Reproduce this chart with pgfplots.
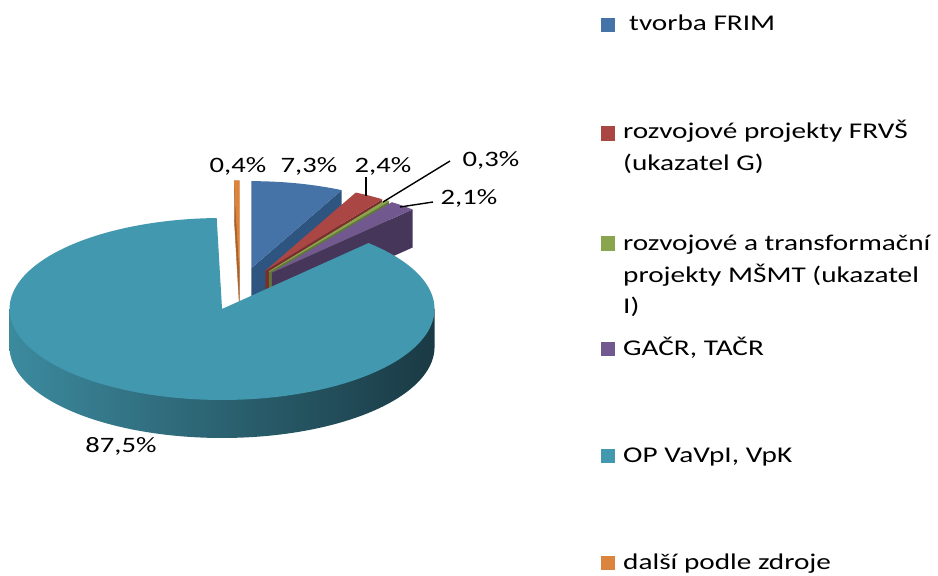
\documentclass[border=0pt]{standalone}
\usepackage{pgfplots}
\pgfplotsset{compat=1.18}
\usepackage{fontspec}
\setmainfont{Carlito}[FakeStretch=1.3]
\definecolor{cBlue}{HTML}{4572A7}
\definecolor{cBlueS}{HTML}{2E5580}
\definecolor{cRed}{HTML}{AA4643}
\definecolor{cRedS}{HTML}{7A2F2D}
\definecolor{cGreen}{HTML}{89A54E}
\definecolor{cGreenS}{HTML}{62783A}
\definecolor{cPurple}{HTML}{71588F}
\definecolor{cPurpleS}{HTML}{463659}
\definecolor{cTeal}{HTML}{4198AF}
\definecolor{cTealL}{HTML}{3C8A9E}
\definecolor{cTealD}{HTML}{1A3A44}
\definecolor{cOrange}{HTML}{DB843D}
\definecolor{cOrangeS}{HTML}{A8622B}
\newcommand\lbl{\fontsize{22}{26}\selectfont}
\newcommand\leg{\fontsize{22.5}{30.5}\selectfont}
% data (percent)
\def\vA{7.3}\def\vB{2.4}\def\vC{0.3}\def\vD{2.1}\def\vE{87.5}\def\vF{0.4}
\begin{document}
\begin{tikzpicture}
% geometry
\pgfmathsetmacro\cx{240}\pgfmathsetmacro\cy{289}
\pgfmathsetmacro\ex{50}\pgfmathsetmacro\rx{212.5}\pgfmathsetmacro\ry{91}
\pgfmathsetmacro\sx{204}\pgfmathsetmacro\sy{87}% smaller (farther) back slices
\pgfmathsetmacro\dd{38}\pgfmathsetmacro\kk{\ry/\rx}
% angles (clockwise from top)
\pgfmathsetmacro\aA{0}
\pgfmathsetmacro\aB{\aA+3.6*\vA}
\pgfmathsetmacro\aC{\aB+3.6*\vB}
\pgfmathsetmacro\aD{\aC+3.6*\vC}
\pgfmathsetmacro\aE{\aD+3.6*\vD}
\pgfmathsetmacro\aF{\aE+3.6*\vE}
\pgfmathsetmacro\aG{\aF+3.6*\vF}
% exploded apexes
\pgfmathsetmacro\oxA{\cx+\ex*sin((\aA+\aB)/2)}\pgfmathsetmacro\oyA{\cy-\ex*\kk*cos((\aA+\aB)/2)}
\pgfmathsetmacro\oxB{\cx+\ex*sin((\aB+\aC)/2)}\pgfmathsetmacro\oyB{\cy-\ex*\kk*cos((\aB+\aC)/2)}
\pgfmathsetmacro\oxC{\cx+\ex*sin((\aC+\aD)/2)}\pgfmathsetmacro\oyC{\cy-\ex*\kk*cos((\aC+\aD)/2)}
\pgfmathsetmacro\oxD{\cx+\ex*sin((\aD+\aE)/2)}\pgfmathsetmacro\oyD{\cy-\ex*\kk*cos((\aD+\aE)/2)}
\pgfmathsetmacro\oxE{\cx+\ex*sin((\aE+\aF)/2)}\pgfmathsetmacro\oyE{\cy-\ex*\kk*cos((\aE+\aF)/2)}
\pgfmathsetmacro\oxF{\cx+\ex*sin((\aF+\aG)/2)}\pgfmathsetmacro\oyF{\cy-\ex*\kk*cos((\aF+\aG)/2)}
% outer end points of cut faces
\pgfmathsetmacro\qxA{\oxA+\sx*sin(\aB)}\pgfmathsetmacro\qyA{\oyA-\sy*cos(\aB)}
\pgfmathsetmacro\qxB{\oxB+\sx*sin(\aC)}\pgfmathsetmacro\qyB{\oyB-\sy*cos(\aC)}
\pgfmathsetmacro\qxC{\oxC+\sx*sin(\aD)}\pgfmathsetmacro\qyC{\oyC-\sy*cos(\aD)}
\pgfmathsetmacro\qxD{\oxD+\sx*sin(\aE)}\pgfmathsetmacro\qyD{\oyD-\sy*cos(\aE)}
\pgfmathsetmacro\qxF{\oxF+\sx*sin(\aF)}\pgfmathsetmacro\qyF{\oyF-\sy*cos(\aF)}
\pgfmathsetmacro\pyA{\oyA+\dd}\pgfmathsetmacro\pyB{\oyB+\dd}\pgfmathsetmacro\pyC{\oyC+\dd}
\pgfmathsetmacro\pyD{\oyD+\dd}\pgfmathsetmacro\pyF{\oyF+\dd}
\pgfmathsetmacro\ryA{\qyA+\dd}\pgfmathsetmacro\ryB{\qyB+\dd}\pgfmathsetmacro\ryC{\qyC+\dd}
\pgfmathsetmacro\ryD{\qyD+\dd}\pgfmathsetmacro\ryF{\qyF+\dd}
\pgfmathsetmacro\tl{\oxE-\rx}\pgfmathsetmacro\tr{\oxE+\rx}
\begin{axis}[
  scale only axis, width=938pt, height=576pt,
  xmin=0, xmax=938, ymin=0, ymax=576, y dir=reverse,
  hide axis, clip=false,
]
\path (rel axis cs:0,0) rectangle (rel axis cs:1,1);
% --- tvorba FRIM
\addplot[fill=cBlueS, draw=none] coordinates {(\oxA,\oyA) (\qxA,\qyA) (\qxA,\ryA) (\oxA,\pyA)} -- cycle;
\addplot[fill=cBlue, draw=none, domain=\aA:\aB, samples=30, variable=\t]
  ({\oxA+\sx*sin(t)},{\oyA-\sy*cos(t)}) -- (axis cs:\oxA,\oyA) -- cycle;
% --- FRVS
\addplot[fill=cRedS, draw=none] coordinates {(\oxB,\oyB) (\qxB,\qyB) (\qxB,\ryB) (\oxB,\pyB)} -- cycle;
\addplot[fill=cRed, draw=none, domain=\aB:\aC, samples=15, variable=\t]
  ({\oxB+\sx*sin(t)},{\oyB-\sy*cos(t)}) -- (axis cs:\oxB,\oyB) -- cycle;
% --- MSMT
\addplot[fill=cGreenS, draw=none] coordinates {(\oxC,\oyC) (\qxC,\qyC) (\qxC,\ryC) (\oxC,\pyC)} -- cycle;
\addplot[fill=cGreen, draw=cGreen, line width=0.6pt, domain=\aC:\aD, samples=5, variable=\t]
  ({\oxC+\sx*sin(t)},{\oyC-\sy*cos(t)}) -- (axis cs:\oxC,\oyC) -- cycle;
% --- GACR
\addplot[fill=cPurpleS, draw=none] coordinates {(\oxD,\oyD) (\qxD,\qyD) (\qxD,\ryD) (\oxD,\pyD)} -- cycle;
\addplot[fill=cPurple, draw=none, domain=\aD:\aE, samples=15, variable=\t]
  ({\oxD+\sx*sin(t)},{\oyD-\sy*cos(t)}) -- (axis cs:\oxD,\oyD) -- cycle;
% --- dalsi
\addplot[fill=cOrangeS, draw=cOrangeS, line width=0.4pt] coordinates {(\oxF,\oyF) (\qxF,\qyF) (\qxF,\ryF) (\oxF,\pyF)} -- cycle;
\addplot[fill=cOrange, draw=cOrange, line width=0.6pt, domain=\aF:\aG, samples=5, variable=\t]
  ({\oxF+\sx*sin(t)},{\oyF-\sy*cos(t)}) -- (axis cs:\oxF,\oyF) -- cycle;
% --- OP VaVpI (side then top)
\addplot[left color=cTealL, right color=cTealD, draw=none, domain=90:270, samples=120, variable=\t]
  ({\oxE+\rx*sin(t)},{\oyE-\ry*cos(t)+\dd}) -- (axis cs:\tl,\oyE) -- (axis cs:\tr,\oyE) -- cycle;
\addplot[fill=cTeal, draw=none, domain=\aE:\aF, samples=150, variable=\t]
  ({\oxE+\rx*sin(t)},{\oyE-\ry*cos(t)}) -- (axis cs:\oxE,\oyE) -- cycle;
% leader lines
\addplot[black, line width=1.4pt] coordinates {(366,177) (366,196)};
\addplot[black, line width=1.4pt] coordinates {(450,161) (383,202)};
\addplot[black, line width=1.4pt] coordinates {(433,202) (400,207)};
% data labels
\node[font=\lbl, anchor=base, inner sep=0] at (axis cs:238,172) {0,4\%};
\node[font=\lbl, anchor=base, inner sep=0] at (axis cs:309,172) {7,3\%};
\node[font=\lbl, anchor=base, inner sep=0] at (axis cs:383,172) {2,4\%};
\node[font=\lbl, anchor=base, inner sep=0] at (axis cs:491,166) {0,3\%};
\node[font=\lbl, anchor=base, inner sep=0] at (axis cs:469,204) {2,1\%};
\node[font=\lbl, anchor=base, inner sep=0] at (axis cs:121,452) {87,5\%};
% legend
\addplot[only marks, mark=square*, mark size=6.75pt, cBlue] coordinates {(607.5,24.5)};
\addplot[only marks, mark=square*, mark size=6.75pt, cRed] coordinates {(607.5,133)};
\addplot[only marks, mark=square*, mark size=6.75pt, cGreen] coordinates {(607.5,243)};
\addplot[only marks, mark=square*, mark size=6.75pt, cPurple] coordinates {(607.5,348.5)};
\addplot[only marks, mark=square*, mark size=6.75pt, cTeal] coordinates {(607.5,455.5)};
\addplot[only marks, mark=square*, mark size=6.75pt, cOrange] coordinates {(607.5,562.5)};
\node[font=\leg, anchor=base west, inner sep=0] at (axis cs:629,30) {tvorba FRIM};
\node[font=\leg, anchor=base west, inner sep=0] at (axis cs:623,138) {rozvojové projekty FRVŠ};
\node[font=\leg, anchor=base west, inner sep=0] at (axis cs:623,170) {(ukazatel G)};
\node[font=\leg, anchor=base west, inner sep=0] at (axis cs:623,250) {rozvojové a transformační};
\node[font=\leg, anchor=base west, inner sep=0] at (axis cs:623,282) {projekty MŠMT (ukazatel};
\node[font=\leg, anchor=base west, inner sep=0] at (axis cs:623,313) {I)};
\node[font=\leg, anchor=base west, inner sep=0] at (axis cs:623,355) {GAČR, TAČR};
\node[font=\leg, anchor=base west, inner sep=0] at (axis cs:623,462) {OP VaVpI, VpK};
\node[font=\leg, anchor=base west, inner sep=0] at (axis cs:623,569) {další podle zdroje};
\end{axis}
\end{tikzpicture}
\end{document}
